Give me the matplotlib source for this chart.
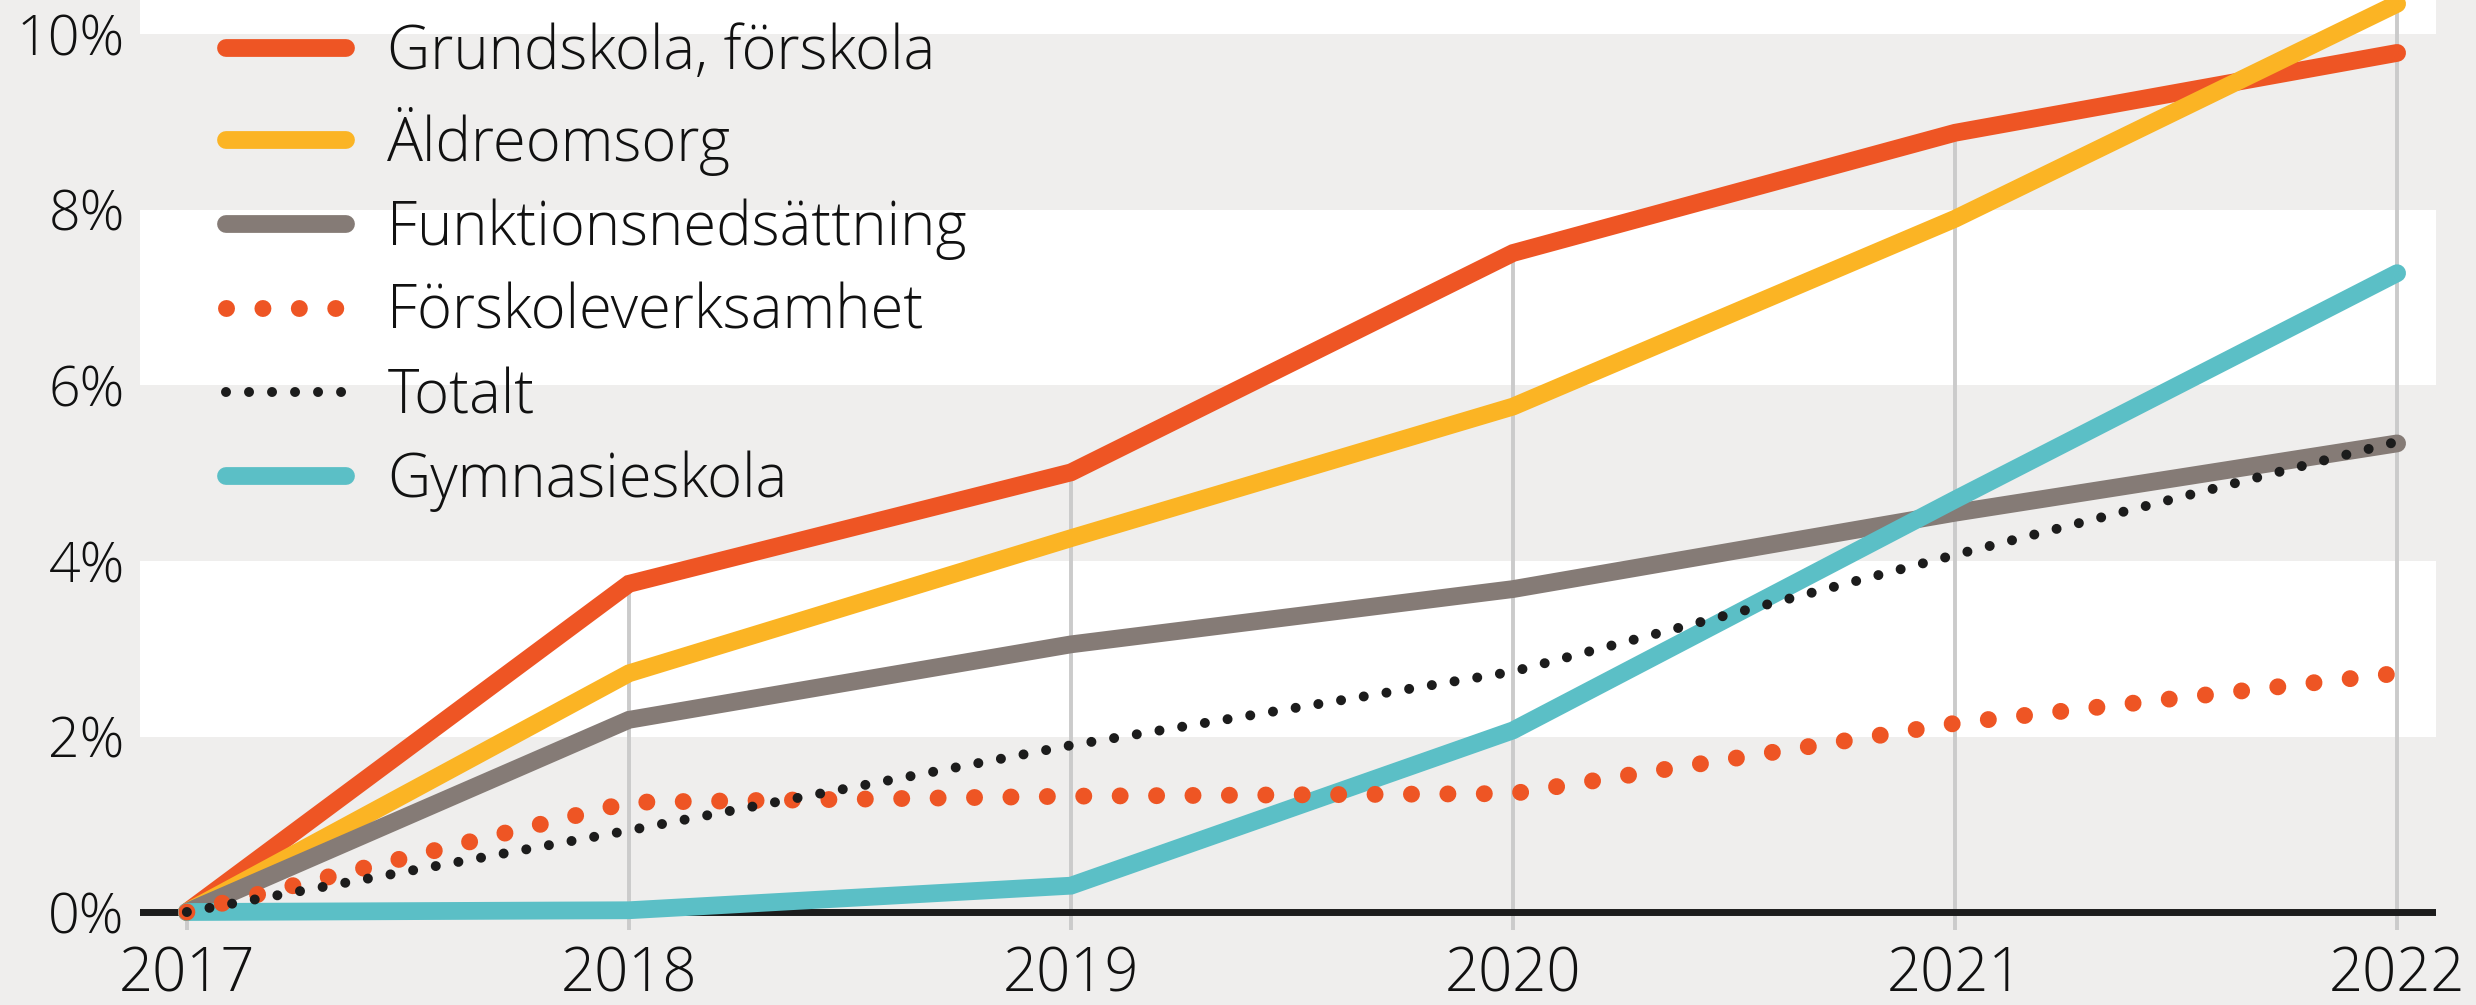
import matplotlib.pyplot as plt
from matplotlib.ticker import FuncFormatter

# Data (förändring sedan 2017, procent)
years = [2017, 2018, 2019, 2020, 2021, 2022]
grundskola = [0, 3.74, 5.01, 7.51, 8.88, 9.79]
aldreomsorg = [0, 2.72, 4.26, 5.76, 7.90, 10.35]
funktion = [0, 2.19, 3.05, 3.68, 4.55, 5.34]
forskolev = [0, 1.25, 1.32, 1.35, 2.15, 2.72]
totalt = [0, 0.93, 1.90, 2.74, 4.07, 5.36]
gymnasie = [0, 0.02, 0.30, 2.07, 4.70, 7.28]
y_ticks = [0, 2, 4, 6, 8, 10]

ORANGE = '#ee5524'
YELLOW = '#fbb424'
GREY = '#857b76'
CYAN = '#5bbfc6'
BLACK = '#1c1c1c'
BG = '#efeeed'

plt.rcParams['font.family'] = ['Open Sans', 'DejaVu Sans']

W, H = 2476, 1005
fig = plt.figure(figsize=(W / 100, H / 100), dpi=100, facecolor=BG)
ax = fig.add_axes([140 / W, 1 - 930 / H, (2436 - 140) / W, 930 / H])
ax.set_facecolor(BG)

ymin, ymax = -0.205, 10.393
ax.set_xlim(2016.894, 2022.088)
ax.set_ylim(ymin, ymax)

# vita band
for lo in (2, 6, 10):
    ax.axhspan(lo, lo + 2, color='white', zorder=0, lw=0)

# vertikala linjer upp till högsta värdet per år
tops = [max(v) for v in zip(grundskola, aldreomsorg, funktion, forskolev, totalt, gymnasie)]
ax.vlines(years, ymin, tops, color='#cbcbcb', lw=2.8, zorder=1)
ax.axhline(0, color=BLACK, lw=5, zorder=2)

lw = 12.8
ax.plot(years, grundskola, color=ORANGE, lw=lw, solid_capstyle='round',
        solid_joinstyle='miter', zorder=3, label='Grundskola, förskola')
ax.plot(years, aldreomsorg, color=YELLOW, lw=lw, solid_capstyle='round',
        solid_joinstyle='miter', zorder=4, label='Äldreomsorg')
ax.plot(years, funktion, color=GREY, lw=lw, solid_capstyle='round',
        solid_joinstyle='miter', zorder=5, label='Funktionsnedsättning')
ax.plot(years, forskolev, color=ORANGE, lw=12.2, linestyle=(0, (0.001, 2.148)),
        dash_capstyle='round', zorder=7, label='Förskoleverksamhet')
ax.plot(years, totalt, color=BLACK, lw=7.2, linestyle=(0, (0.001, 2.3)),
        dash_capstyle='round', zorder=8, label='Totalt')
ax.plot(years, gymnasie, color=CYAN, lw=lw, solid_capstyle='round',
        solid_joinstyle='miter', zorder=6, label='Gymnasieskola')

ax.set_xticks(years)
ax.set_yticks(y_ticks)
ax.yaxis.set_major_formatter(FuncFormatter(lambda v, p: f'{v:.0f}%'))
ax.tick_params(axis='y', length=0, pad=11, labelsize=40, labelcolor='#111111')
ax.tick_params(axis='x', length=0, pad=11, labelsize=43, labelcolor='#111111')
for t in ax.get_xticklabels() + ax.get_yticklabels():
    t.set_fontweight('light')
for s in ax.spines.values():
    s.set_visible(False)

leg = ax.legend(loc='upper left', bbox_to_anchor=(0.0375, 0.976), frameon=False,
                borderpad=0, borderaxespad=0, handlelength=2.0, handletextpad=0.7,
                labelspacing=0.38, prop={'size': 43, 'weight': 'light'})
for t in leg.get_texts():
    t.set_color('#111111')

fig.savefig('out.png', dpi=100, facecolor=BG)
